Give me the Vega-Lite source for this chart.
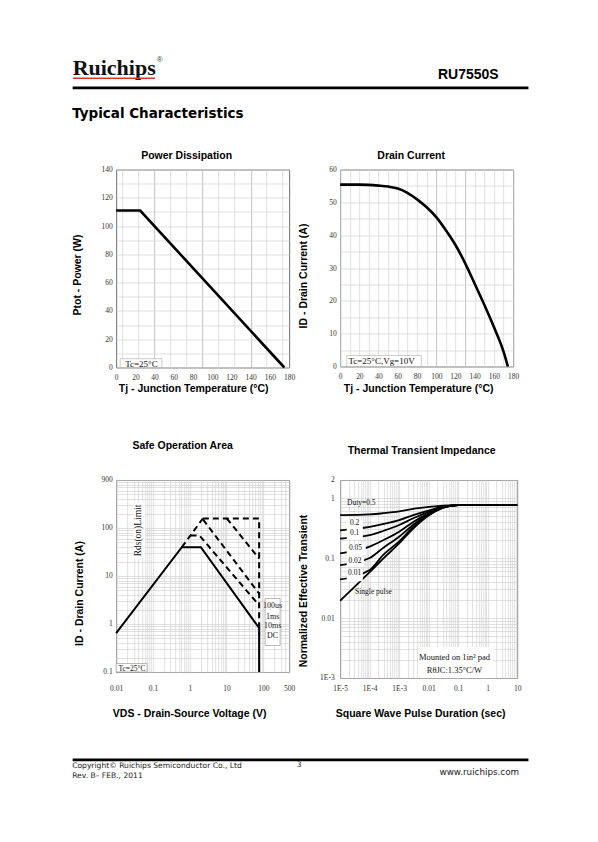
{
  "$schema": "https://vega.github.io/schema/vega-lite/v6.json",
  "background": "white",
  "padding": {"left": 71.15, "top": 0, "right": 0, "bottom": 0},
  "columns": 2,
  "spacing": {"row": 112.5, "column": 51},
  "bounds": "flush",
  "config": {
    "view": {"stroke": "#6e6e6e", "strokeWidth": 1},
    "axis": {"domain": false, "ticks": false, "labelFont": "Liberation Serif", "labelFontSize": 7.5, "labelColor": "#333333", "titleFont": "Liberation Sans", "titleFontWeight": "bold", "titleFontSize": 10.5, "titleColor": "#000000", "titleBaseline": "middle", "gridColor": "#cfcfcf", "gridWidth": 0.7, "labelFlush": false, "labelOverlap": false},
    "title": {"font": "Liberation Sans", "fontSize": 10.5, "fontWeight": "bold", "color": "#000000"}
  },
  "datasets": {
    "hdr_logo": [{"x": 72.5, "y": 75, "t": "Ruichips"}],
    "hdr_reg": [{"x": 156.5, "y": 62, "t": "®"}],
    "hdr_red": [{"x": 72.7, "x2": 155, "y": 78.3}],
    "hdr_rule": [{"x": 72.5, "x2": 528.3, "y": 87.8}],
    "hdr_title": [{"x": 72, "y": 117.5, "t": "Typical Characteristics"}],
    "hdr_part": [{"x": 498.5, "y": 79, "t": "RU7550S"}],
    "ftr_rule": [{"x": 72.5, "x2": 528.3, "y": 759.3}],
    "ftr_small": [
      {"x": 72, "y": 765.5, "t": "Copyright© Ruichips Semiconductor Co., Ltd"},
      {"x": 72, "y": 775.7, "t": "Rev. B– FEB., 2011"},
      {"x": 296.5, "y": 764.3, "t": "3"}
    ],
    "ftr_url": [{"x": 519, "y": 771.5, "t": "www.ruichips.com"}],
    "pd": [{"tj": 0, "p": 111}, {"tj": 25, "p": 111}, {"tj": 175, "p": 0}],
    "pd_box": [{"tj": 4.2, "tj2": 47.6, "p": 0, "p2": 6.2}],
    "pd_note": [{"tj": 9.4, "p": 2.3, "t": "Tc=25°C"}],
    "id": [
      {"tj": 0, "i": 55.4}, {"tj": 20, "i": 55.4}, {"tj": 40, "i": 55.1}, {"tj": 50, "i": 54.8},
      {"tj": 60, "i": 54.2}, {"tj": 70, "i": 52.9}, {"tj": 80, "i": 50.9}, {"tj": 90, "i": 48.5},
      {"tj": 100, "i": 45.5}, {"tj": 110, "i": 41.5}, {"tj": 120, "i": 37}, {"tj": 130, "i": 31.5},
      {"tj": 140, "i": 25.2}, {"tj": 150, "i": 18.8}, {"tj": 160, "i": 12}, {"tj": 170, "i": 4.5},
      {"tj": 174.5, "i": 0}
    ],
    "id_box": [{"tj": 6.9, "tj2": 84.5, "i": 0, "i2": 3.35}],
    "id_note": [{"tj": 8.6, "i": 1.8, "t": "Tc=25°C,Vg=10V"}],
    "soa_dc": [
      {"v": 0.01, "i": 0.643, "o": 1}, {"v": 0.608, "i": 39.8, "o": 2}, {"v": 2.0, "i": 39.8, "o": 3},
      {"v": 76.5, "i": 0.825, "o": 4}, {"v": 76.5, "i": 0.1, "o": 5}
    ],
    "soa_pulse": [
      {"s": "rds", "v": 0.608, "i": 39.8, "o": 1}, {"s": "rds", "v": 2.26, "i": 157.7, "o": 2},
      {"s": "top", "v": 2.26, "i": 157.7, "o": 1}, {"s": "top", "v": 76.5, "i": 157.7, "o": 2}, {"s": "top", "v": 76.5, "i": 0.6, "o": 3},
      {"s": "100us", "v": 10.2, "i": 157.7, "o": 1}, {"s": "100us", "v": 76.5, "i": 23, "o": 2},
      {"s": "1ms", "v": 2.3, "i": 150, "o": 1}, {"s": "1ms", "v": 76.5, "i": 4.3, "o": 2},
      {"s": "10ms", "v": 1.05, "i": 69.8, "o": 1}, {"s": "10ms", "v": 1.83, "i": 69.8, "o": 2}, {"s": "10ms", "v": 76.5, "i": 2.45, "o": 3}
    ],
    "soa_rdsbox": [{"v": 0.029, "v2": 0.0614, "i": 339.8, "i2": 23.2}],
    "soa_box": [
      {"v": 111.4, "v2": 284.6, "i": 3.4, "i2": 0.356},
      {"v": 0.01, "v2": 0.0695, "i": 0.1, "i2": 0.15}
    ],
    "soa_rds": [{"v": 0.0403, "i": 88.7, "t": "Rds(on)Limit"}],
    "soa_leg": [
      {"v": 178, "i": 2.32, "t": "100us"}, {"v": 178, "i": 1.43, "t": "1ms"},
      {"v": 178, "i": 0.887, "t": "10ms"}, {"v": 178, "i": 0.55, "t": "DC"}
    ],
    "soa_tc": [{"v": 0.0115, "i": 0.118, "t": "Tc=25°C"}],
    "zth": [
      {"s": "0.5", "t": 0.00001, "z": 0.52}, {"s": "0.5", "t": 0.0001, "z": 0.535}, {"s": "0.5", "t": 0.0003, "z": 0.56}, {"s": "0.5", "t": 0.001, "z": 0.6}, {"s": "0.5", "t": 0.003, "z": 0.66}, {"s": "0.5", "t": 0.01, "z": 0.71}, {"s": "0.5", "t": 0.03, "z": 0.75}, {"s": "0.5", "t": 0.1, "z": 0.765}, {"s": "0.5", "t": 10, "z": 0.765},
      {"s": "0.2", "t": 0.00001, "z": 0.29}, {"s": "0.2", "t": 0.0001, "z": 0.33}, {"s": "0.2", "t": 0.0003, "z": 0.37}, {"s": "0.2", "t": 0.001, "z": 0.43}, {"s": "0.2", "t": 0.003, "z": 0.52}, {"s": "0.2", "t": 0.01, "z": 0.62}, {"s": "0.2", "t": 0.03, "z": 0.72}, {"s": "0.2", "t": 0.1, "z": 0.765}, {"s": "0.2", "t": 10, "z": 0.765},
      {"s": "0.1", "t": 0.00001, "z": 0.21}, {"s": "0.1", "t": 0.0001, "z": 0.24}, {"s": "0.1", "t": 0.0003, "z": 0.285}, {"s": "0.1", "t": 0.001, "z": 0.355}, {"s": "0.1", "t": 0.003, "z": 0.46}, {"s": "0.1", "t": 0.01, "z": 0.59}, {"s": "0.1", "t": 0.03, "z": 0.71}, {"s": "0.1", "t": 0.1, "z": 0.765}, {"s": "0.1", "t": 10, "z": 0.765},
      {"s": "0.05", "t": 0.00001, "z": 0.12}, {"s": "0.05", "t": 0.0001, "z": 0.155}, {"s": "0.05", "t": 0.0003, "z": 0.2}, {"s": "0.05", "t": 0.001, "z": 0.275}, {"s": "0.05", "t": 0.003, "z": 0.4}, {"s": "0.05", "t": 0.01, "z": 0.555}, {"s": "0.05", "t": 0.03, "z": 0.7}, {"s": "0.05", "t": 0.1, "z": 0.765}, {"s": "0.05", "t": 10, "z": 0.765},
      {"s": "0.02", "t": 0.00001, "z": 0.076}, {"s": "0.02", "t": 0.0001, "z": 0.1}, {"s": "0.02", "t": 0.0003, "z": 0.15}, {"s": "0.02", "t": 0.001, "z": 0.227}, {"s": "0.02", "t": 0.003, "z": 0.36}, {"s": "0.02", "t": 0.01, "z": 0.535}, {"s": "0.02", "t": 0.03, "z": 0.695}, {"s": "0.02", "t": 0.1, "z": 0.765}, {"s": "0.02", "t": 10, "z": 0.765},
      {"s": "0.01", "t": 0.00001, "z": 0.044}, {"s": "0.01", "t": 0.0001, "z": 0.063}, {"s": "0.01", "t": 0.0003, "z": 0.115}, {"s": "0.01", "t": 0.001, "z": 0.19}, {"s": "0.01", "t": 0.003, "z": 0.33}, {"s": "0.01", "t": 0.01, "z": 0.52}, {"s": "0.01", "t": 0.03, "z": 0.69}, {"s": "0.01", "t": 0.1, "z": 0.765}, {"s": "0.01", "t": 10, "z": 0.765},
      {"s": "single", "t": 0.00001, "z": 0.0194}, {"s": "single", "t": 0.0001, "z": 0.058}, {"s": "single", "t": 0.0003, "z": 0.1}, {"s": "single", "t": 0.001, "z": 0.175}, {"s": "single", "t": 0.003, "z": 0.31}, {"s": "single", "t": 0.01, "z": 0.51}, {"s": "single", "t": 0.03, "z": 0.685}, {"s": "single", "t": 0.1, "z": 0.765}, {"s": "single", "t": 10, "z": 0.765}
    ],
    "zth_labbox": [
      {"t": 0.0000167, "t2": 0.0000587, "z": 0.275, "z2": 0.43},
      {"t": 0.0000167, "t2": 0.0000587, "z": 0.199, "z2": 0.272},
      {"t": 0.0000167, "t2": 0.000074, "z": 0.112, "z2": 0.175},
      {"t": 0.0000167, "t2": 0.000065, "z": 0.072, "z2": 0.105},
      {"t": 0.0000167, "t2": 0.0000587, "z": 0.041, "z2": 0.063}
    ],
    "zth_lab": [
      {"t": 0.000052, "z": 0.82, "l": "Duty=0.5"}, {"t": 0.000031, "z": 0.378, "l": "0.2"},
      {"t": 0.000031, "z": 0.262, "l": "0.1"}, {"t": 0.000033, "z": 0.148, "l": "0.05"},
      {"t": 0.000032, "z": 0.09, "l": "0.02"}, {"t": 0.000031, "z": 0.056, "l": "0.01"},
      {"t": 0.000135, "z": 0.027, "l": "Single pulse"}
    ],
    "zth_box": [{"t": 0.0045, "t2": 1.5, "z": 0.001, "z2": 0.0033}],
    "zth_note": [{"t": 0.075, "z": 0.00224, "l": "Mounted on 1in² pad"}, {"t": 0.075, "z": 0.00136, "l": "RθJC:1.35°C/W"}]
  },
  "concat": [
    {
      "width": 173, "height": 56.5, "view": {"stroke": null},
      "encoding": {
        "x": {"field": "x", "type": "quantitative", "scale": {"domain": [116, 289], "nice": false, "zero": false}, "axis": null},
        "y": {"field": "y", "type": "quantitative", "scale": {"domain": [0, 56.5], "reverse": true, "nice": false, "zero": false}, "axis": null}
      },
      "layer": [
        {"data": {"name": "hdr_logo"}, "mark": {"type": "text", "font": "Liberation Serif", "fontWeight": "bold", "fontSize": 22, "align": "left", "baseline": "alphabetic", "color": "#111111"}, "encoding": {"text": {"field": "t"}}},
        {"data": {"name": "hdr_reg"}, "mark": {"type": "text", "font": "Liberation Sans", "fontSize": 8, "align": "left", "baseline": "alphabetic", "color": "#333333"}, "encoding": {"text": {"field": "t"}}},
        {"data": {"name": "hdr_red"}, "mark": {"type": "rule", "color": "#e0322c", "strokeWidth": 1.6}, "encoding": {"x2": {"field": "x2"}}},
        {"data": {"name": "hdr_rule"}, "mark": {"type": "rule", "color": "#000000", "strokeWidth": 2.7}, "encoding": {"x2": {"field": "x2"}}},
        {"data": {"name": "hdr_title"}, "mark": {"type": "text", "font": "DejaVu Sans", "fontWeight": "bold", "fontSize": 13.5, "align": "left", "baseline": "alphabetic", "color": "#000000"}, "encoding": {"text": {"field": "t"}}}
      ]
    },
    {
      "width": 177, "height": 56.5, "view": {"stroke": null},
      "data": {"name": "hdr_part"},
      "mark": {"type": "text", "font": "Liberation Sans", "fontWeight": "bold", "fontSize": 14, "align": "right", "baseline": "alphabetic", "color": "#000000"},
      "encoding": {
        "x": {"field": "x", "type": "quantitative", "scale": {"domain": [340, 517], "nice": false, "zero": false}, "axis": null},
        "y": {"field": "y", "type": "quantitative", "scale": {"domain": [0, 56.5], "reverse": true, "nice": false, "zero": false}, "axis": null},
        "text": {"field": "t"}
      }
    },
    {
      "width": 173, "height": 198,
      "title": {"text": "Power Dissipation", "dx": -16, "offset": 4.5},
      "encoding": {
        "x": {"field": "tj", "type": "quantitative", "scale": {"domain": [0, 180], "nice": false, "zero": false},
          "axis": {"title": "Tj - Junction Temperature (°C)", "values": [0, 6.5, 20, 23, 39.5, 40, 56, 60, 73, 80, 89.5, 100, 106, 120, 123, 140, 156.5, 160, 173, 180], "format": "d",
            "labelExpr": "indexof([0,20,40,60,80,100,120,140,160,180], datum.value) >= 0 ? datum.label : ''",
            "gridOpacity": {"condition": {"test": "indexof([6.5,23,39.5,56,73,89.5,106,123,140,156.5,173], datum.value) >= 0", "value": 1}, "value": 0},
            "gridColor": {"condition": {"test": "indexof([39.5,89.5,140], datum.value) >= 0", "value": "#a8a8a8"}, "value": "#d2d2d2"},
            "labelPadding": 6, "titleX": 77, "titleY": 21}},
        "y": {"field": "p", "type": "quantitative", "scale": {"domain": [0, 140], "nice": false, "zero": false},
          "axis": {"title": "Ptot - Power (W)", "values": [0, 10, 20, 30, 40, 50, 60, 70, 80, 90, 100, 110, 120, 130, 140], "format": "d",
            "labelExpr": "datum.value % 20 == 0 ? datum.label : ''", "gridColor": "#d2d2d2", "labelPadding": 4, "titleX": -38.5, "titleY": 105}}
      },
      "layer": [
        {"data": {"name": "pd_box"}, "mark": {"type": "rect", "fill": "white", "stroke": "#9a9a9a", "strokeWidth": 0.5}, "encoding": {"x2": {"field": "tj2"}, "y2": {"field": "p2"}}},
        {"data": {"name": "pd"}, "mark": {"type": "line", "color": "#000000", "strokeWidth": 2.6}},
        {"data": {"name": "pd_note"}, "mark": {"type": "text", "font": "Liberation Serif", "fontSize": 9, "align": "left", "baseline": "middle", "color": "#111111"}, "encoding": {"text": {"field": "t"}}}
      ]
    },
    {
      "width": 173, "height": 197,
      "title": {"text": "Drain Current", "dx": -15.5, "offset": 4.5},
      "encoding": {
        "x": {"field": "tj", "type": "quantitative", "scale": {"domain": [0, 180], "nice": false, "zero": false},
          "axis": {"title": "Tj - Junction Temperature (°C)", "values": [0, 10, 20, 30, 40, 50, 60, 70, 80, 90, 100, 110, 120, 130, 140, 150, 160, 170, 180], "format": "d",
            "labelExpr": "datum.value % 20 == 0 ? datum.label : ''",
            "gridColor": {"condition": {"test": "datum.value == 100 || datum.value == 130", "value": "#a8a8a8"}, "value": "#d2d2d2"},
            "labelPadding": 6, "titleX": 78, "titleY": 22}},
        "y": {"field": "i", "type": "quantitative", "scale": {"domain": [0, 60], "nice": false, "zero": false},
          "axis": {"title": "ID - Drain Current (A)", "values": [0, 5, 10, 15, 20, 25, 30, 35, 40, 45, 50, 55, 60], "format": "d",
            "labelExpr": "datum.value % 10 == 0 ? datum.label : ''", "gridColor": "#d2d2d2", "labelPadding": 4, "titleX": -37, "titleY": 106}}
      },
      "layer": [
        {"data": {"name": "id_box"}, "mark": {"type": "rect", "fill": "white", "stroke": "#9a9a9a", "strokeWidth": 0.5}, "encoding": {"x2": {"field": "tj2"}, "y2": {"field": "i2"}}},
        {"data": {"name": "id"}, "mark": {"type": "line", "color": "#000000", "strokeWidth": 2.6, "interpolate": "monotone"}},
        {"data": {"name": "id_note"}, "mark": {"type": "text", "font": "Liberation Serif", "fontSize": 9, "align": "left", "baseline": "middle", "color": "#111111"}, "encoding": {"text": {"field": "t"}}}
      ]
    },
    {
      "width": 173, "height": 192,
      "title": {"text": "Safe Operation Area", "dx": -20, "offset": 24},
      "encoding": {
        "x": {"field": "v", "type": "quantitative", "scale": {"type": "log", "domain": [0.01, 500], "nice": false},
          "axis": {"title": "VDS - Drain-Source Voltage (V)", "values": [0.01, 0.02, 0.03, 0.04, 0.05, 0.06, 0.07, 0.08, 0.09, 0.1, 0.2, 0.3, 0.4, 0.5, 0.6, 0.7, 0.8, 0.9, 1, 2, 3, 4, 5, 6, 7, 8, 9, 10, 20, 30, 40, 50, 60, 70, 80, 90, 100, 200, 300, 400, 500],
            "labelExpr": "['0.01','0.1','1','10','100','500'][indexof([0.01,0.1,1,10,100,500], datum.value)] || ''",
            "gridColor": "#cdcdcd", "gridWidth": 0.6, "labelPadding": 13, "titleX": 73, "titleY": 41.5}},
        "y": {"field": "i", "type": "quantitative", "scale": {"type": "log", "domain": [0.1, 1000], "nice": false},
          "axis": {"title": "ID - Drain Current (A)", "values": [0.1, 0.2, 0.3, 0.4, 0.5, 0.6, 0.7, 0.8, 0.9, 1, 2, 3, 4, 5, 6, 7, 8, 9, 10, 20, 30, 40, 50, 60, 70, 80, 90, 100, 200, 300, 400, 500, 600, 700, 800, 900, 1000],
            "labelExpr": "['0.1','1','10','100','900'][indexof([0.1,1,10,100,1000], datum.value)] || ''",
            "gridColor": "#cdcdcd", "gridWidth": 0.6, "labelPadding": 4, "titleX": -37, "titleY": 113}}
      },
      "layer": [
        {"data": {"name": "soa_rdsbox"}, "mark": {"type": "rect", "fill": "white"}, "encoding": {"x2": {"field": "v2"}, "y2": {"field": "i2"}}},
        {"data": {"name": "soa_box"}, "mark": {"type": "rect", "fill": "white", "stroke": "#8a8a8a", "strokeWidth": 0.6}, "encoding": {"x2": {"field": "v2"}, "y2": {"field": "i2"}}},
        {"data": {"name": "soa_dc"}, "mark": {"type": "line", "color": "#000000", "strokeWidth": 2}, "encoding": {"order": {"field": "o", "type": "quantitative"}}},
        {"data": {"name": "soa_pulse"}, "mark": {"type": "line", "color": "#000000", "strokeWidth": 2, "strokeDash": [6, 4]}, "encoding": {"detail": {"field": "s"}, "order": {"field": "o", "type": "quantitative"}}},
        {"data": {"name": "soa_rds"}, "mark": {"type": "text", "font": "Liberation Serif", "fontSize": 9.5, "angle": 270, "align": "center", "baseline": "middle", "color": "#111111"}, "encoding": {"text": {"field": "t"}}},
        {"data": {"name": "soa_leg"}, "mark": {"type": "text", "font": "Liberation Serif", "fontSize": 8, "align": "center", "baseline": "middle", "color": "#111111"}, "encoding": {"text": {"field": "t"}}},
        {"data": {"name": "soa_tc"}, "mark": {"type": "text", "font": "Liberation Serif", "fontSize": 7.5, "align": "left", "baseline": "middle", "color": "#111111"}, "encoding": {"text": {"field": "t"}}}
      ]
    },
    {
      "width": 177, "height": 198,
      "title": {"text": "Thermal Transient Impedance", "dx": -7, "offset": 19},
      "encoding": {
        "x": {"field": "t", "type": "quantitative", "scale": {"type": "log", "domain": [0.00001, 10], "nice": false},
          "axis": {"title": "Square Wave Pulse Duration (sec)", "values": [0.00001, 0.00002, 0.00003, 0.00004, 0.00005, 0.00006, 0.00007, 0.00008, 0.00009, 0.0001, 0.0002, 0.0003, 0.0004, 0.0005, 0.0006, 0.0007, 0.0008, 0.0009, 0.001, 0.002, 0.003, 0.004, 0.005, 0.006, 0.007, 0.008, 0.009, 0.01, 0.02, 0.03, 0.04, 0.05, 0.06, 0.07, 0.08, 0.09, 0.1, 0.2, 0.3, 0.4, 0.5, 0.6, 0.7, 0.8, 0.9, 1, 2, 3, 4, 5, 6, 7, 8, 9, 10],
            "labelExpr": "['1E-5','1E-4','1E-3','0.01','0.1','1','10'][indexof([0.00001,0.0001,0.001,0.01,0.1,1,10], datum.value)] || ''",
            "gridColor": "#cdcdcd", "gridWidth": 0.6, "labelPadding": 7, "titleX": 80, "titleY": 35.5}},
        "y": {"field": "z", "type": "quantitative", "scale": {"type": "log", "domain": [0.001, 2], "nice": false},
          "axis": {"title": "Normalized Effective Transient", "values": [0.001, 0.002, 0.003, 0.004, 0.005, 0.006, 0.007, 0.008, 0.009, 0.01, 0.02, 0.03, 0.04, 0.05, 0.06, 0.07, 0.08, 0.09, 0.1, 0.2, 0.3, 0.4, 0.5, 0.6, 0.7, 0.8, 0.9, 1, 2],
            "labelExpr": "['1E-3','0.01','0.1','1','2'][indexof([0.001,0.01,0.1,1,2], datum.value)] || ''",
            "gridColor": "#cdcdcd", "gridWidth": 0.6, "labelPadding": 6, "titleX": -37, "titleY": 110.5}}
      },
      "layer": [
        {"data": {"name": "zth_box"}, "mark": {"type": "rect", "fill": "white"}, "encoding": {"x2": {"field": "t2"}, "y2": {"field": "z2"}}},
        {"data": {"name": "zth"}, "mark": {"type": "line", "color": "#000000", "strokeWidth": 1.8, "interpolate": "monotone"}, "encoding": {"detail": {"field": "s"}}},
        {"data": {"name": "zth_labbox"}, "mark": {"type": "rect", "fill": "white"}, "encoding": {"x2": {"field": "t2"}, "y2": {"field": "z2"}}},
        {"data": {"name": "zth_lab"}, "mark": {"type": "text", "font": "Liberation Serif", "fontSize": 7.5, "align": "center", "baseline": "middle", "color": "#111111"}, "encoding": {"text": {"field": "l"}}},
        {"data": {"name": "zth_note"}, "mark": {"type": "text", "font": "Liberation Serif", "fontSize": 8.5, "align": "center", "baseline": "middle", "color": "#111111"}, "encoding": {"text": {"field": "l"}}}
      ]
    },
    {
      "width": 173, "height": 20, "view": {"stroke": null},
      "encoding": {
        "x": {"field": "x", "type": "quantitative", "scale": {"domain": [116, 289], "nice": false, "zero": false}, "axis": null},
        "y": {"field": "y", "type": "quantitative", "scale": {"domain": [790, 810], "reverse": true, "nice": false, "zero": false}, "axis": null}
      },
      "layer": [
        {"data": {"name": "ftr_rule"}, "mark": {"type": "rule", "color": "#000000", "strokeWidth": 2.7}, "encoding": {"x2": {"field": "x2"}}},
        {"data": {"name": "ftr_small"}, "mark": {"type": "text", "font": "DejaVu Sans", "fontSize": 7.6, "align": "left", "baseline": "middle", "color": "#222222"}, "encoding": {"text": {"field": "t"}}},
        {"data": {"name": "ftr_url"}, "mark": {"type": "text", "font": "DejaVu Sans", "fontSize": 8.8, "align": "right", "baseline": "middle", "color": "#222222"}, "encoding": {"text": {"field": "t"}}}
      ]
    }
  ]
}
